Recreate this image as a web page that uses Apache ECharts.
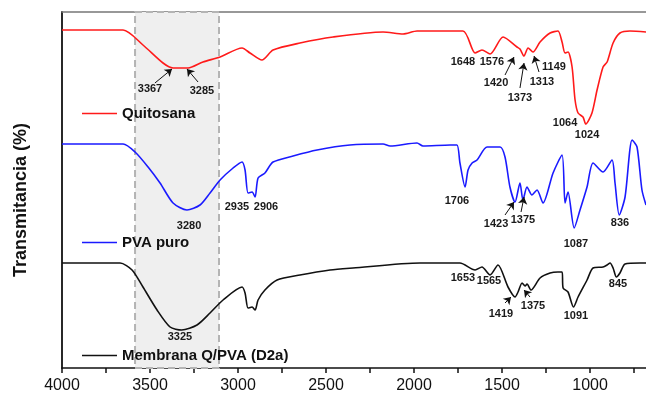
<!DOCTYPE html>
<html>
<head>
<meta charset="utf-8">
<script src="https://cdn.jsdelivr.net/npm/echarts@6/dist/echarts.min.js"></script>
<style>
html,body{margin:0;padding:0;background:#fff;}
#c{width:646px;height:395px;}
</style>
</head>
<body>
<div id="c"></div>
<script>
// Wavenumber (cm-1) / transmittance (arbitrary, offset units)
var quitosana = [[4000,338],[3653,338],[3540,323],[3426,305],[3369,300],[3284,300],[3199,306],[3102,311],[2977,320],[2932,315],[2864,308],[2801,318],[2648,325],[2460,331],[2176,336],[2062,334],[1983,337],[1722,337],[1653,315],[1614,318],[1568,314],[1494,331],[1415,321],[1398,319],[1375,312],[1352,320],[1324,316],[1284,326],[1227,335],[1182,337],[1159,326],[1142,315],[1125,316],[1102,301],[1085,268],[1068,255],[1040,251],[1024,244],[989,255],[960,278],[926,301],[903,306],[869,325],[830,335],[773,337],[682,336]];
var pvaPuro = [[4000,224],[3653,224],[3585,216],[3511,201],[3443,185],[3369,165],[3290,158],[3216,163],[3159,175],[3102,188],[3028,200],[2977,206],[2960,198],[2943,175],[2920,176],[2903,171],[2886,190],[2847,195],[2801,206],[2687,212],[2551,218],[2364,223],[2176,224],[2136,222],[1983,225],[1949,222],[1795,223],[1756,223],[1739,205],[1710,181],[1693,198],[1670,205],[1642,208],[1585,221],[1511,221],[1483,211],[1455,181],[1426,166],[1398,185],[1381,168],[1358,181],[1330,173],[1301,178],[1267,165],[1210,195],[1159,213],[1142,165],[1125,176],[1090,140],[1057,158],[1017,181],[983,205],[926,196],[875,208],[858,185],[834,153],[801,171],[761,228],[733,221],[705,178],[682,163]];
var membrana = [[4000,105],[3670,105],[3602,98],[3540,81],[3460,58],[3386,41],[3320,38],[3233,43],[3159,55],[3085,68],[2977,81],[2960,75],[2943,60],[2920,61],[2903,58],[2886,68],[2847,78],[2778,88],[2648,93],[2477,98],[2347,100],[1966,105],[1739,105],[1653,98],[1614,101],[1568,93],[1523,103],[1466,81],[1426,71],[1409,76],[1386,85],[1369,82],[1358,84],[1335,78],[1284,90],[1227,95],[1182,96],[1159,96],[1153,80],[1125,76],[1094,61],[1068,71],[1017,88],[983,100],[926,101],[903,103],[886,105],[869,100],[850,91],[830,95],[801,104],[716,105],[682,105]];

// Peak labels: [text, wavenumber, transmittance]
var labelsQuitosana = [['3367',3500,279],['3285',3205,277],['1648',1722,306],['1576',1557,306],['1420',1534,285],['1373',1398,270],['1313',1273,286],['1149',1205,301],['1064',1142,245],['1024',1017,233]];
var labelsPva = [['2935',3006,161],['2906',2841,161],['3280',3278,142],['1706',1756,167],['1423',1534,144],['1375',1381,148],['1087',1080,124],['836',830,145]];
var labelsMembrana = [['3325',3330,31],['1653',1722,90],['1565',1574,87],['1419',1506,54],['1375',1324,62],['1091',1080,52],['845',841,84]];

// Arrows: [fromWn, fromT, toWn, toT]
var arrowsQuitosana = [[3472,285,3375,299],[3227,286,3290,299],[1483,293,1432,311],[1398,280,1375,305],[1290,296,1318,312]];
var arrowsPva = [[1483,153,1432,166],[1392,156,1375,171]];
var arrowsMembrana = [[1483,65,1449,71],[1341,71,1375,78]];

var shadedRange = [3585, 3108];
var xLabelValues = [4000,3500,3000,2500,2000,1500,1000];
var xTickValues = [4000,3750,3500,3250,3000,2750,2500,2250,2000,1750,1500,1250,1000,750];
var seriesNames = ['Quitosana','PVA puro','Membrana Q/PVA (D2a)'];
var seriesColors = ['#ff1a1a','#1a1aff','#111111'];

function mkLabels(arr){
  return arr.map(function(a){ return {name:a[0], coord:[a[1],a[2]]}; });
}
function mkArrows(arr){
  return arr.map(function(a){ return [{coord:[a[0],a[1]]},{coord:[a[2],a[3]]}]; });
}
var FONT = 'Liberation Sans, Arial, sans-serif';
var labelStyle = {show:true, position:'inside', formatter:'{b}', fontFamily:FONT, fontSize:11, fontWeight:'bold', color:'#1a1a1a'};

function mkSeries(i, data, labels, arrows){
  return {
    name: seriesNames[i], type:'line', data:data, showSymbol:false, symbol:'none', z:3,
    smooth:0.25,
    lineStyle:{color:seriesColors[i], width:1.6}, itemStyle:{color:seriesColors[i]},
    animation:false,
    markPoint:{symbol:'rect', symbolSize:0, silent:true, label:labelStyle, data:mkLabels(labels), animation:false},
    markLine:{silent:true, symbol:['none','arrow'], symbolSize:7, label:{show:false},
      lineStyle:{color:'#111', width:1, type:'solid'}, data:mkArrows(arrows), animation:false}
  };
}

var chart = echarts.init(document.getElementById('c'), null, {renderer:'canvas'});
var legendBase = function(name, top){
  return {data:[name], left:82, top:top, padding:0, icon:'rect', itemWidth:35, itemHeight:1.6, selectedMode:false,
    textStyle:{fontSize:15, fontWeight:'bold', color:'#111', fontFamily:FONT}};
};
chart.setOption({
  animation:false,
  backgroundColor:'#fff',
  grid:{left:62, right:0, top:12, bottom:27},
  legend:[legendBase(seriesNames[0],106), legendBase(seriesNames[1],235), legendBase(seriesNames[2],348)],
  xAxis:[{
    type:'value', inverse:true, min:682, max:4000,
    axisLine:{show:true, lineStyle:{color:'#111', width:1.6}},
    axisTick:{show:true, inside:false, length:5, customValues:xTickValues, lineStyle:{color:'#111', width:1.5}},
    axisLabel:{show:true, customValues:xLabelValues, margin:10, fontSize:16, color:'#111', fontFamily:FONT,
      formatter:function(v){ return String(v); }},
    splitLine:{show:false}
  },{
    type:'value', inverse:true, min:682, max:4000, position:'top',
    axisLine:{show:true, lineStyle:{color:'#777', width:1.5}},
    axisTick:{show:false}, axisLabel:{show:false}, splitLine:{show:false}
  }],
  yAxis:{
    type:'value', min:0, max:356,
    name:'Transmitancia (%)', nameLocation:'middle', nameGap:32, nameRotate:90,
    nameTextStyle:{fontSize:18, fontWeight:'bold', color:'#111', fontFamily:FONT, padding:[0,20,0,0]},
    axisLine:{show:true, lineStyle:{color:'#111', width:1.8}},
    axisTick:{show:false}, axisLabel:{show:false}, splitLine:{show:false}
  },
  series:[
    {name:'shade', type:'line', data:[], z:1, silent:true,
      markArea:{silent:true, itemStyle:{color:'#efefef', borderColor:'#b4b4b4', borderWidth:2, borderType:[7,4]},
        data:[[{xAxis:shadedRange[0]},{xAxis:shadedRange[1]}]]}},
    mkSeries(0, quitosana, labelsQuitosana, arrowsQuitosana),
    mkSeries(1, pvaPuro, labelsPva, arrowsPva),
    mkSeries(2, membrana, labelsMembrana, arrowsMembrana)
  ]
});
</script>
</body>
</html>
